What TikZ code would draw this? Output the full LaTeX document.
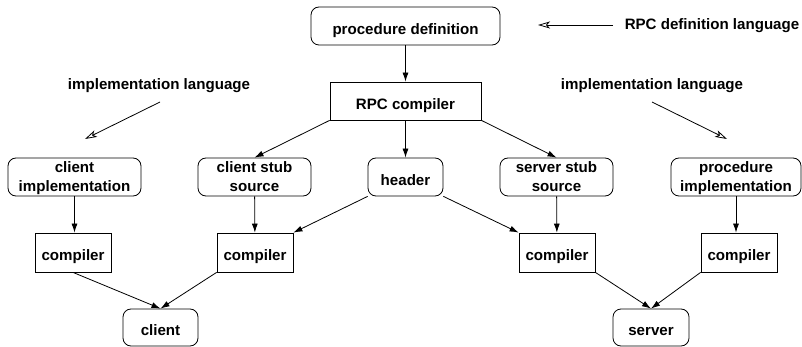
\documentclass[tikz,border=0pt]{standalone}
\usepackage{fontspec}
\setmainfont{Liberation Sans}
\usetikzlibrary{arrows.meta}
\tikzset{
  x=1pt, y=-1pt,
  base/.style={draw, line width=0.8pt, inner sep=0pt, align=center,
    font=\fontsize{15.1}{19}\selectfont\bfseries},
  one/.style={text height=16.5pt, text depth=0pt},
  two/.style={text height=30pt, text depth=0pt},
  rbox/.style={base, rounded corners=8pt},
  sbox/.style={base},
  lbl/.style={inner sep=0pt, anchor=base, font=\fontsize{15.1}{19}\selectfont\bfseries},
  arr/.style={line width=0.8pt, -{Latex[length=9pt,width=6pt]}},
  harr/.style={line width=0.8pt, -{Stealth[open,length=12pt,width=7pt,inset=3pt]}},
}
\begin{document}
\begin{tikzpicture}
\useasboundingbox (0,0) rectangle (802,347);
\node[rbox, one, minimum width=189pt, minimum height=38pt] (pdef) at (405.5,26) {procedure definition};
\node[sbox, one, minimum width=151pt, minimum height=38pt] (rpcc) at (405.5,101) {RPC compiler};
\node[rbox, two, minimum width=133pt, minimum height=38pt] (cimpl) at (74.5,177) {client\\implementation};
\node[rbox, two, minimum width=113pt, minimum height=38pt] (cstub) at (254.5,177) {client stub\\source};
\node[rbox, one, minimum width=75pt, minimum height=38pt] (hdr) at (405.5,177) {header};
\node[rbox, two, minimum width=113pt, minimum height=38pt] (sstub) at (556.5,177) {server stub\\source};
\node[rbox, two, minimum width=130pt, minimum height=38pt] (pimpl) at (736,177) {procedure\\implementation};
\node[sbox, one, minimum width=76pt, minimum height=39pt] (comp1) at (73,252.5) {compiler};
\node[sbox, one, minimum width=76pt, minimum height=39pt] (comp2) at (255,252.5) {compiler};
\node[sbox, one, minimum width=76pt, minimum height=39pt] (comp3) at (557,252.5) {compiler};
\node[sbox, one, minimum width=76pt, minimum height=39pt] (comp4) at (739,252.5) {compiler};
\node[rbox, one, minimum width=75pt, minimum height=37pt] (client) at (160.5,327.5) {client};
\node[rbox, one, minimum width=76pt, minimum height=37pt] (server) at (651,327.5) {server};

\node[lbl] (rpcdl) at (712,30) {RPC definition language};
\node[lbl] (ilL) at (159,90) {implementation language};
\node[lbl] (ilR) at (652,90) {implementation language};

\coordinate (rdA) at (613,25);
\coordinate (rdB) at (538,25);
\coordinate (lA) at (160,102);
\coordinate (lB) at (85,139);
\coordinate (rA) at (652,102);
\coordinate (rB) at (727,139);

\draw[harr] (rdA) -- (rdB);
\draw[harr] (lA) -- (lB);
\draw[harr] (rA) -- (rB);

\draw[arr] (pdef) -- (rpcc);
\draw[arr] (rpcc.south west) -- (cstub.north);
\draw[arr] (rpcc) -- (hdr);
\draw[arr] (rpcc.south east) -- (sstub.north);
\draw[arr] (cimpl.south) -- (cimpl.south |- comp1.north);
\draw[arr] (cstub) -- (comp2);
\draw[arr] (hdr.south west) -- (comp2.north east);
\draw[arr] (hdr.south east) -- (comp3.north west);
\draw[arr] (sstub) -- (comp3);
\draw[arr] (pimpl.south) -- (pimpl.south |- comp4.north);
\draw[arr] (comp1.south) -- (client.north);
\draw[arr] (comp2.south west) -- (client.north);
\draw[arr] (comp3.south east) -- (server.north);
\draw[arr] (comp4.south west) -- (server.north);
\end{tikzpicture}
\end{document}
